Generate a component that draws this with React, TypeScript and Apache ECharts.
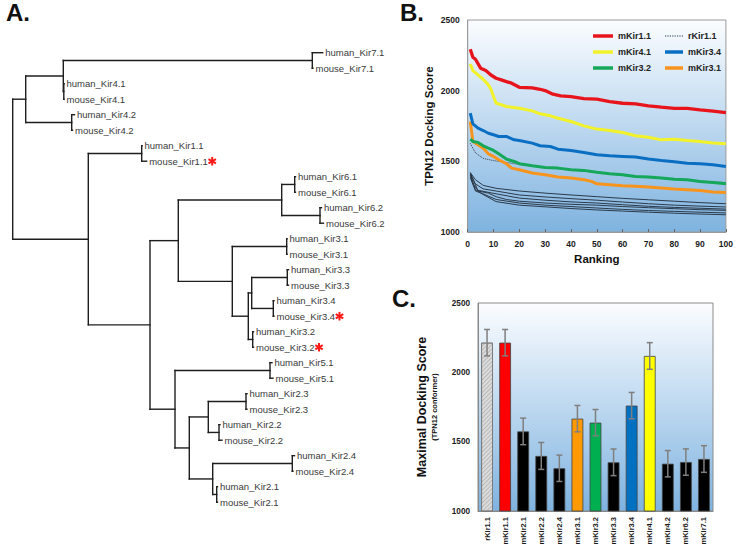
import React, { useEffect, useRef } from "react";
import * as echarts from "echarts";

// ---------- Panel A: phylogenetic tree ----------
const leafNames = [
  "human_Kir7.1", "mouse_Kir7.1", "human_Kir4.1", "mouse_Kir4.1", "human_Kir4.2", "mouse_Kir4.2",
  "human_Kir1.1", "mouse_Kir1.1", "human_Kir6.1", "mouse_Kir6.1", "human_Kir6.2", "mouse_Kir6.2",
  "human_Kir3.1", "mouse_Kir3.1", "human_Kir3.3", "mouse_Kir3.3", "human_Kir3.4", "mouse_Kir3.4",
  "human_Kir3.2", "mouse_Kir3.2", "human_Kir5.1", "mouse_Kir5.1", "human_Kir2.3", "mouse_Kir2.3",
  "human_Kir2.2", "mouse_Kir2.2", "human_Kir2.4", "mouse_Kir2.4", "human_Kir2.1", "mouse_Kir2.1",
];
const leafParent = [
  "p7_1", "p7_1", "p4_1", "p4_1", "p4_2", "p4_2", "p1_1", "p1_1", "p6_1", "p6_1", "p6_2", "p6_2",
  "p3_1", "p3_1", "p3_3", "p3_3", "p3_4", "p3_4", "p3_2", "p3_2", "p5_1", "p5_1", "p2_3", "p2_3",
  "p2_2", "p2_2", "p2_4", "p2_4", "p2_1", "p2_1",
];
const leafDepth = [
  3.1, 3.003, 0.513, 0.513, 0.618, 0.598, 1.293, 1.34, 2.828, 2.828, 3.088, 3.108,
  2.743, 2.743, 2.758, 2.758, 2.613, 2.613, 2.408, 2.408, 2.593, 2.603, 2.343, 2.343,
  2.073, 2.093, 2.818, 2.803, 2.048, 2.048,
];
const nodeIds = [
  "root", "nTop", "nA", "p7_1", "p4_1", "p4_2", "nBig", "p1_1", "nRest", "n63", "n6", "p6_1", "p6_2",
  "n3", "p3_1", "n3b", "n33_34", "p3_3", "p3_4", "p3_2", "n52", "p5_1", "n2", "n23_22", "p2_3", "p2_2",
  "n24_21", "p2_4", "p2_1",
];
const nodeParent = [
  "", "root", "nTop", "nA", "nA", "nTop", "root", "nBig", "nBig", "nRest", "n63", "n6", "n6",
  "n63", "n3", "n3", "n3b", "n33_34", "n33_34", "n3b", "nRest", "n52", "n52", "n2", "n23_22", "n23_22",
  "n2", "n24_21", "n24_21",
];
const nodeDepth = [
  0, 0.13, 0.506, 2.996, 0.511, 0.59, 0.756, 1.29, 1.373, 1.656, 2.69, 2.82, 3.073,
  2.196, 2.74, 2.356, 2.39, 2.746, 2.606, 2.4, 1.623, 2.573, 1.766, 1.956, 2.333, 2.063,
  2.0, 2.796, 2.04,
];
const markedLeaves = ["mouse_Kir1.1", "mouse_Kir3.4", "mouse_Kir3.2"];

// ---------- Panel B: docking score vs ranking ----------
const mKir11 = [[1, 2293], [2, 2236], [3, 2222], [5, 2159], [7, 2142], [9, 2111], [11, 2088], [13, 2076], [15, 2064], [17, 2053], [20, 2024], [25, 2020], [28, 2010], [30, 2001], [33, 1975], [36, 1963], [40, 1958], [45, 1944], [50, 1940], [55, 1923], [60, 1911], [65, 1907], [70, 1893], [75, 1883], [80, 1874], [85, 1874], [90, 1864], [95, 1855], [100, 1845]];
const mKir41 = [[1, 2189], [2, 2142], [4, 2111], [6, 2081], [8, 2041], [9, 2010], [10, 1958], [11, 1911], [13, 1900], [15, 1888], [20, 1876], [25, 1857], [28, 1836], [32, 1822], [35, 1805], [40, 1782], [45, 1751], [50, 1728], [55, 1718], [60, 1704], [65, 1681], [70, 1671], [75, 1652], [80, 1657], [85, 1648], [90, 1641], [95, 1629], [100, 1624]];
const mKir34 = [[1, 1841], [2, 1765], [4, 1735], [6, 1718], [8, 1699], [10, 1688], [12, 1676], [15, 1676], [18, 1652], [20, 1648], [25, 1629], [28, 1610], [32, 1605], [35, 1586], [40, 1577], [45, 1563], [50, 1546], [55, 1539], [60, 1535], [65, 1530], [70, 1516], [75, 1506], [80, 1497], [85, 1487], [90, 1483], [95, 1476], [100, 1464]];
const mKir32 = [[1, 1657], [2, 1641], [4, 1634], [6, 1610], [8, 1593], [10, 1577], [12, 1553], [15, 1516], [18, 1499], [20, 1483], [25, 1469], [30, 1457], [35, 1452], [40, 1440], [45, 1436], [50, 1422], [55, 1412], [60, 1405], [65, 1393], [70, 1389], [75, 1382], [80, 1374], [85, 1370], [90, 1358], [95, 1351], [100, 1341]];
const mKir31 = [[1, 1782], [2, 1641], [4, 1617], [6, 1593], [8, 1553], [10, 1535], [12, 1511], [15, 1483], [17, 1452], [20, 1440], [25, 1417], [30, 1405], [35, 1389], [40, 1382], [45, 1370], [48, 1358], [50, 1341], [55, 1334], [60, 1327], [65, 1323], [70, 1318], [75, 1311], [80, 1304], [85, 1299], [90, 1294], [95, 1283], [100, 1280]];
const rKir11 = [[1, 1627], [3, 1560], [6, 1521], [10, 1505], [15, 1492], [20, 1478], [30, 1455], [40, 1440], [50, 1420], [60, 1400], [70, 1385], [80, 1372], [90, 1360], [100, 1350]];
const other1 = [[1, 1420], [3, 1370], [6, 1330], [11, 1309], [20, 1290], [30, 1275], [40, 1262], [50, 1250], [60, 1238], [70, 1228], [80, 1218], [90, 1208], [100, 1200]];
const other2 = [[1, 1410], [3, 1340], [6, 1305], [11, 1290], [20, 1262], [30, 1248], [40, 1236], [50, 1225], [60, 1212], [70, 1200], [80, 1190], [90, 1183], [100, 1177]];
const other3 = [[1, 1400], [2, 1340], [4, 1295], [11, 1270], [20, 1240], [30, 1225], [40, 1213], [50, 1205], [60, 1193], [70, 1182], [80, 1174], [90, 1168], [100, 1162]];
const other4 = [[1, 1420], [4, 1290], [8, 1275], [11, 1250], [15, 1230], [20, 1218], [30, 1205], [40, 1196], [50, 1190], [60, 1180], [70, 1172], [80, 1165], [90, 1158], [100, 1153]];
const other5 = [[1, 1385], [3, 1290], [6, 1270], [11, 1230], [20, 1205], [30, 1190], [40, 1180], [50, 1170], [60, 1160], [70, 1152], [80, 1146], [90, 1140], [100, 1135]];
const other6 = [[1, 1410], [3, 1300], [6, 1265], [11, 1215], [20, 1190], [30, 1178], [40, 1166], [50, 1156], [60, 1148], [70, 1140], [80, 1133], [90, 1127], [100, 1122]];

// ---------- Panel C: maximal docking score ----------
const barCategories = ["rKir1.1", "mKir1.1", "mKir2.1", "mKir2.2", "mKir2.4", "mKir3.1", "mKir3.2", "mKir3.3", "mKir3.4", "mKir4.1", "mKir4.2", "mKir6.2", "mKir7.1"];
const barValues = [2214, 2214, 1574, 1397, 1308, 1666, 1637, 1351, 1760, 2118, 1341, 1353, 1375];
const barErrors = [95, 95, 96, 97, 95, 95, 95, 96, 95, 96, 95, 95, 96];
const barColors = ["#dcdcdc", "#ff0000", "#000000", "#000000", "#000000", "#ff9900", "#00b050", "#000000", "#0070c0", "#ffff00", "#000000", "#000000", "#000000"];

const FONT = "Liberation Sans";

function buildTree() {
  const children: Record<string, string[]> = {};
  const depth: Record<string, number> = {};
  nodeIds.forEach((id, i) => {
    depth[id] = nodeDepth[i];
    const p = nodeParent[i];
    if (p) (children[p] = children[p] || []).push(id);
  });
  const yOf: Record<string, number> = {};
  leafNames.forEach((n, i) => {
    depth[n] = leafDepth[i];
    yOf[n] = i;
    (children[leafParent[i]] = children[leafParent[i]] || []).push(n);
  });
  const calcY = (id: string): number => {
    if (yOf[id] !== undefined) return yOf[id];
    const ys = children[id].map(calcY);
    yOf[id] = (Math.min(...ys) + Math.max(...ys)) / 2;
    return yOf[id];
  };
  calcY("root");
  const segs: number[][] = [];
  nodeIds.forEach((id) => {
    const ch = children[id] || [];
    if (!ch.length) return;
    const ys = ch.map((c) => yOf[c]);
    segs.push([depth[id], Math.min(...ys), depth[id], Math.max(...ys)]);
    ch.forEach((c) => segs.push([depth[id], yOf[c], depth[c], yOf[c]]));
  });
  return segs;
}

const DOTTED_ICON =
  "path://M0,0h1.2v1h-1.2z M2.4,0h1.2v1h-1.2z M4.8,0h1.2v1h-1.2z M7.2,0h1.2v1h-1.2z M9.6,0h1.2v1h-1.2z M12,0h1.2v1h-1.2z M14.4,0h1.2v1h-1.2z M16.8,0h1.2v1h-1.2z";

export default function App() {
  const ref = useRef<HTMLDivElement>(null);
  useEffect(() => {
    if (!ref.current) return;
    const chart = echarts.init(ref.current, undefined, { renderer: "svg" });
    const segs = buildTree();
    const grad = () =>
      new echarts.graphic.LinearGradient(0, 0, 0, 1, [
        { offset: 0, color: "#fbfdff" },
        { offset: 1, color: "#7fb3e0" },
      ]);
    const tickLabel = {
      fontFamily: FONT,
      fontWeight: "bold" as const,
      fontSize: 8.5,
      color: "#1a1a1a",
      formatter: (v: any) => String(v),
    };
    const lineSeries = (name: string, data: number[][], color: string, width: number, type = "solid", z = 3) => ({
      type: "line",
      name,
      xAxisIndex: 1,
      yAxisIndex: 1,
      data,
      symbol: "none",
      z,
      lineStyle: { color, width, type },
      itemStyle: { color },
    });
    const legendText = { fontFamily: FONT, fontWeight: "bold" as const, fontSize: 9, color: "#222", lineHeight: 12 };
    const legendBase = { orient: "vertical", itemGap: 4, selectedMode: false, textStyle: legendText, icon: "rect" };
    const letter = { fontFamily: FONT, fontWeight: "bold", fontSize: 24, fill: "#111" };

    const option: any = {
      animation: false,
      backgroundColor: "#ffffff",
      graphic: [
        { type: "text", left: 6, top: 0, style: { text: "A.", ...letter } },
        { type: "text", left: 400, top: 0, style: { text: "B.", ...letter } },
        { type: "text", left: 392, top: 286, style: { text: "C.", ...letter } },
      ],
      legend: [
        { ...legendBase, left: 588, top: 25, itemWidth: 20, itemHeight: 3.5, data: ["mKir1.1", "mKir4.1", "mKir3.2"] },
        { ...legendBase, left: 660, top: 25, itemWidth: 18, itemHeight: 1, data: [{ name: "rKir1.1", icon: DOTTED_ICON }] },
        { ...legendBase, left: 660, top: 41, itemWidth: 18, itemHeight: 3.5, data: ["mKir3.4", "mKir3.1"] },
      ],
      grid: [
        { left: 12.7, top: 52.7, width: 320, height: 449.5 },
        {
          left: 467.7, top: 20, width: 259.6, height: 212, show: true,
          backgroundColor: grad(), borderColor: "#9a9a9a", borderWidth: 1,
        },
        {
          left: 478, top: 303, width: 235, height: 208, show: true,
          backgroundColor: grad(), borderColor: "#8c8c8c", borderWidth: 1,
        },
      ],
      xAxis: [
        { gridIndex: 0, type: "value", min: 0, max: 3.2, show: false },
        {
          gridIndex: 1, type: "value", min: 0, max: 100, interval: 10,
          name: "Ranking", nameLocation: "middle", nameGap: 21,
          nameTextStyle: { fontFamily: FONT, fontWeight: "bold", fontSize: 11.5, color: "#111" },
          axisLine: { lineStyle: { color: "#999" } },
          axisTick: { show: true, inside: true, length: 3, lineStyle: { color: "#666" } },
          axisLabel: { ...tickLabel, margin: 7 },
          splitLine: { show: false },
        },
        {
          gridIndex: 2, type: "category", data: barCategories,
          axisLine: { lineStyle: { color: "#888" } },
          axisTick: { show: false },
          axisLabel: { ...tickLabel, fontSize: 7.5, rotate: 90, interval: 0, margin: 6 },
        },
      ],
      yAxis: [
        { gridIndex: 0, type: "value", min: 0, max: 29, inverse: true, show: false },
        {
          gridIndex: 1, type: "value", min: 1000, max: 2500, interval: 500,
          name: "TPN12 Docking Score", nameLocation: "middle", nameRotate: 90, nameGap: 33,
          nameTextStyle: { fontFamily: FONT, fontWeight: "bold", fontSize: 11.5, color: "#111" },
          axisLine: { show: true, lineStyle: { color: "#999" } },
          axisTick: { show: false },
          axisLabel: { ...tickLabel, margin: 8 },
          splitLine: { show: false },
        },
        {
          gridIndex: 2, type: "value", min: 1000, max: 2500, interval: 500,
          name: "{a|Maximal Docking Score}\n{b|(TPN12 conformer)}",
          nameLocation: "middle", nameRotate: 90, nameGap: 39,
          nameTextStyle: {
            rich: {
              a: { fontFamily: FONT, fontWeight: "bold", fontSize: 12.5, color: "#111", lineHeight: 15, align: "center" },
              b: { fontFamily: FONT, fontWeight: "bold", fontSize: 7.5, color: "#111", lineHeight: 10, align: "center" },
            },
          },
          axisLine: { show: true, lineStyle: { color: "#888" } },
          axisTick: { show: false },
          axisLabel: { ...tickLabel, fontSize: 8.2, margin: 8 },
          splitLine: { show: false },
        },
      ],
      series: [
        {
          type: "custom",
          name: "tree",
          xAxisIndex: 0,
          yAxisIndex: 0,
          clip: false,
          data: segs,
          encode: { x: [0, 2], y: [1, 3] },
          renderItem: (_p: any, api: any) => {
            const a = api.coord([api.value(0), api.value(1)]);
            const b = api.coord([api.value(2), api.value(3)]);
            return {
              type: "line",
              shape: { x1: a[0], y1: a[1], x2: b[0], y2: b[1] },
              style: { stroke: "#1e1e1e", lineWidth: 1.4, lineCap: "square" },
            };
          },
        },
        {
          type: "custom",
          name: "treeLabels",
          xAxisIndex: 0,
          yAxisIndex: 0,
          clip: false,
          data: leafNames.map((_n, i) => [leafDepth[i], i]),
          encode: { x: 0, y: 1 },
          renderItem: (p: any, api: any) => {
            const c = api.coord([api.value(0), api.value(1)]);
            const name = leafNames[p.dataIndex];
            const children: any[] = [
              {
                type: "text",
                x: c[0] + 2.5,
                y: c[1],
                style: { text: name, fontFamily: FONT, fontSize: 9.5, fill: "#3a3a3a", align: "left", verticalAlign: "middle" },
              },
            ];
            if (markedLeaves.includes(name)) {
              const cx = c[0] + 2.5 + 63;
              const cy = c[1];
              const r = 4.3;
              [90, 30, 150].forEach((deg) => {
                const t = (deg * Math.PI) / 180;
                children.push({
                  type: "line",
                  shape: { x1: cx - r * Math.cos(t), y1: cy - r * Math.sin(t), x2: cx + r * Math.cos(t), y2: cy + r * Math.sin(t) },
                  style: { stroke: "#ff1a1a", lineWidth: 2 },
                });
              });
            }
            return { type: "group", children };
          },
        },
        lineSeries("other1", other1, "#2b3a4a", 1, "solid", 2),
        lineSeries("other2", other2, "#2b3a4a", 1, "solid", 2),
        lineSeries("other3", other3, "#2b3a4a", 1, "solid", 2),
        lineSeries("other4", other4, "#2b3a4a", 1, "solid", 2),
        lineSeries("other5", other5, "#2b3a4a", 1, "solid", 2),
        lineSeries("other6", other6, "#2b3a4a", 1, "solid", 2),
        lineSeries("rKir1.1", rKir11, "#2b3a4a", 1, "dotted", 2),
        lineSeries("mKir3.1", mKir31, "#f7941d", 3),
        lineSeries("mKir3.2", mKir32, "#16a85a", 3),
        lineSeries("mKir3.4", mKir34, "#0a6fc2", 3),
        lineSeries("mKir4.1", mKir41, "#f2f22a", 3),
        lineSeries("mKir1.1", mKir11, "#e8141c", 3.3),
        {
          type: "bar",
          name: "max",
          xAxisIndex: 2,
          yAxisIndex: 2,
          barCategoryGap: "35%",
          data: barValues.map((v, i) => ({
            value: v,
            itemStyle: {
              color: barColors[i],
              borderColor: i === 0 ? "#777" : "#444",
              borderWidth: 0.8,
              decal:
                i === 0
                  ? { symbol: "rect", symbolSize: 1, dashArrayX: [[1, 0]], dashArrayY: [1, 2], rotation: -Math.PI / 4, color: "rgba(140,140,140,0.45)" }
                  : undefined,
            },
          })),
        },
        {
          type: "custom",
          name: "err",
          xAxisIndex: 2,
          yAxisIndex: 2,
          z: 5,
          data: barValues.map((v, i) => [i, v - barErrors[i], v + barErrors[i]]),
          encode: { x: 0, y: [1, 2] },
          renderItem: (_p: any, api: any) => {
            const lo = api.coord([api.value(0), api.value(1)]);
            const hi = api.coord([api.value(0), api.value(2)]);
            const w = 3;
            const st = { stroke: "#7f7f7f", lineWidth: 1.5 };
            return {
              type: "group",
              children: [
                { type: "line", shape: { x1: lo[0], y1: lo[1], x2: hi[0], y2: hi[1] }, style: st },
                { type: "line", shape: { x1: lo[0] - w, y1: lo[1], x2: lo[0] + w, y2: lo[1] }, style: st },
                { type: "line", shape: { x1: hi[0] - w, y1: hi[1], x2: hi[0] + w, y2: hi[1] }, style: st },
              ],
            };
          },
        },
      ],
    };
    chart.setOption(option);
    return () => chart.dispose();
  }, []);
  return (
    <div
      ref={ref}
      style={{ position: "absolute", left: 0, top: 0, width: 736, height: 550, background: "#fff" }}
    />
  );
}
